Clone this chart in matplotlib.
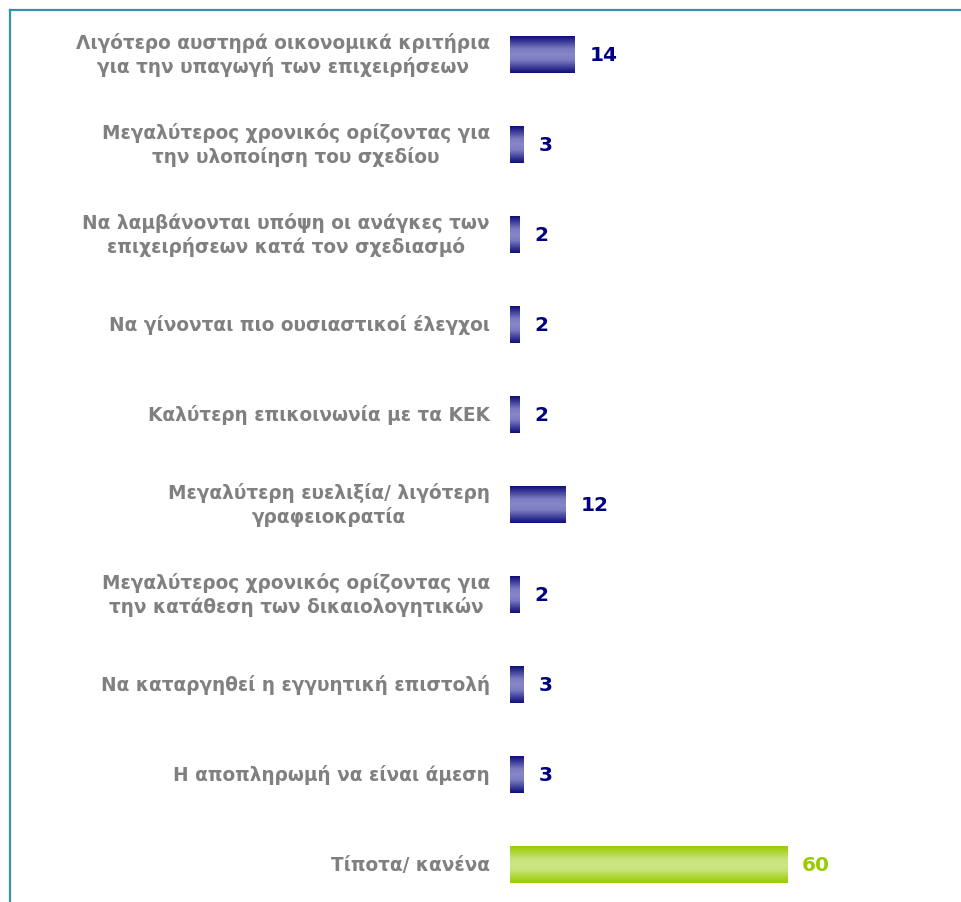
import matplotlib
matplotlib.use("Agg")
import matplotlib.pyplot as plt
from matplotlib.colors import LinearSegmentedColormap
from matplotlib.lines import Line2D
import numpy as np

categories = [
    "Λιγότερο αυστηρά οικονομικά κριτήρια\nγια την υπαγωγή των επιχειρήσεων",
    "Μεγαλύτερος χρονικός ορίζοντας για\nτην υλοποίηση του σχεδίου",
    "Να λαμβάνονται υπόψη οι ανάγκες των\nεπιχειρήσεων κατά τον σχεδιασμό",
    "Να γίνονται πιο ουσιαστικοί έλεγχοι",
    "Καλύτερη επικοινωνία με τα ΚΕΚ",
    "Μεγαλύτερη ευελιξία/ λιγότερη\nγραφειοκρατία",
    "Μεγαλύτερος χρονικός ορίζοντας για\nτην κατάθεση των δικαιολογητικών",
    "Να καταργηθεί η εγγυητική επιστολή",
    "Η αποπληρωμή να είναι άμεση",
    "Τίποτα/ κανένα",
]
values = [14, 3, 2, 2, 2, 12, 2, 3, 3, 60]
highlight = [False] * 9 + [True]

blue_cmap = LinearSegmentedColormap.from_list(
    "b", [(0, "#10107a"), (0.35, "#7c7cc2"), (0.5, "#8686c8"), (0.65, "#7c7cc2"), (1, "#10107a")])
green_cmap = LinearSegmentedColormap.from_list(
    "g", [(0, "#99cc00"), (0.35, "#c8e37a"), (0.5, "#cee688"), (0.65, "#c8e37a"), (1, "#99cc00")])

fig = plt.figure(figsize=(9.61, 9.02), dpi=100)
ax = fig.add_axes([510 / 961, 0, 451 / 961, 1])
px_per_unit = 277 / 60
ax.set_xlim(0, 451 / px_per_unit)
ax.set_ylim(9.411, -0.611)
ax.axis("off")

grad = np.linspace(0, 1, 64).reshape(-1, 1)
h = 0.4
for i, (v, hl) in enumerate(zip(values, highlight)):
    cmap = green_cmap if hl else blue_cmap
    ax.imshow(grad, cmap=cmap, aspect="auto", interpolation="bilinear",
              extent=(0, v, i + h / 2, i - h / 2), zorder=2)
    ax.text(v + 15 / px_per_unit, i + 0.01, str(v), va="center", ha="left",
            fontsize=14.5, fontweight="bold",
            color="#99cc00" if hl else "#000080")
    ax.text(-20 / px_per_unit, i, categories[i], va="center", ha="right",
            multialignment="center", fontsize=13.35, fontweight="bold",
            color="#808080", linespacing=1.22, clip_on=False)

# frame lines at top and left
fig.add_artist(Line2D([9.5 / 961, 1], [1 - 9.5 / 902] * 2,
                      transform=fig.transFigure, color="#3a8fa8", lw=1.6))
fig.add_artist(Line2D([9.5 / 961] * 2, [0, 1 - 9.5 / 902],
                      transform=fig.transFigure, color="#3a8fa8", lw=1.6))

fig.savefig("out.png", dpi=100)
